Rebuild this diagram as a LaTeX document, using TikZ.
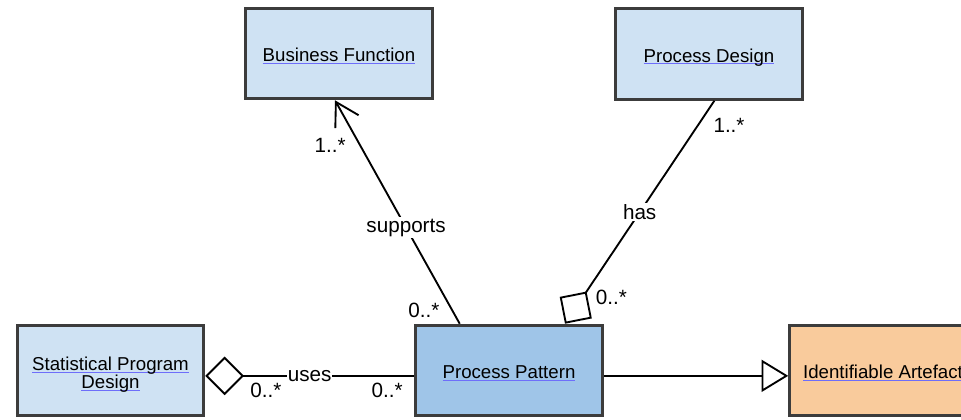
\documentclass[tikz,border=0pt]{standalone}
\usepackage{fontspec}
\setmainfont{Liberation Sans}
\usepackage{tikz}
\usetikzlibrary{arrows.meta,calc}
\definecolor{boxblue}{HTML}{CFE2F3}
\definecolor{patblue}{HTML}{9FC5E8}
\definecolor{artorange}{HTML}{F9CB9C}
\definecolor{boxline}{HTML}{3C3C3C}
\definecolor{linkline}{RGB}{110,110,250}
\newlength\lnkwd
\newcommand\lnk[1]{\settowidth\lnkwd{#1}\rlap{\color{linkline}\rule[-1.8pt]{\lnkwd}{0.9pt}}#1}

\begin{document}
\begin{tikzpicture}[x=0.75pt,y=-0.75pt,
  box/.style={draw=boxline,line width=2.2pt,fill=boxblue,minimum width=140pt,minimum height=68pt,align=center,text height=12pt,text depth=0pt,font=\fontsize{14}{16}\selectfont},
  assoc/.style={line width=1.4pt},
  lbl/.style={fill=white,inner sep=1pt,font=\fontsize{15.5}{17}\selectfont},
  mult/.style={inner sep=0pt,font=\fontsize{15.5}{17}\selectfont}]
\useasboundingbox (0,0) rectangle (961,419);
\clip (0,0) rectangle (961,419);

\node[box] (bf) at (339,53.5) {\lnk{Business Function}};
\node[box] (pd) at (709,54) {\lnk{Process Design}};
\node[box,text height=27pt,text depth=0pt,font=\fontsize{14}{13.5}\selectfont] (sp) at (110.5,370.5) {\lnk{Statistical Program}\\\lnk{Design}};
\node[box,fill=patblue] (pp) at (509,370.5) {\lnk{Process Pattern}};
\node[box,fill=artorange] (ia) at (883,370.5) {\lnk{Identifiable Artefact}};

\coordinate (ppsup) at ($(pp.north west)!0.24!(pp.north east)$);

\draw[assoc,-{Straight Barb[length=17pt,width=20pt]}] (ppsup) -- node[lbl,pos=0.43] {supports} node[mult,pos=0.06,left=9pt] {0..*} node[mult,pos=0.8,left=10pt] {1..*} ([xshift=-3pt]bf.south);
\draw[assoc,-{Diamond[open,length=29pt,width=29pt]}] ([xshift=4pt]pd.south) -- node[lbl] {has} node[mult,pos=0.11,right=11pt] {1..*} node[mult,pos=0.88,right=9pt] {0..*} ([xshift=42pt]pp.north);
\draw[assoc,{Diamond[open,length=29pt,width=29pt]}-] ([yshift=-4pt]sp.east) -- node[lbl,inner sep=0.5pt] {uses} node[mult,pos=0.29,below=5pt] {0..*} node[mult,pos=0.87,below=5pt] {0..*} ([yshift=-4pt]pp.west);
\draw[assoc,-{Triangle[open,length=20pt,width=24pt]}] ([yshift=-4pt]pp.east) -- ([yshift=-4pt]ia.west);

\end{tikzpicture}
\end{document}
